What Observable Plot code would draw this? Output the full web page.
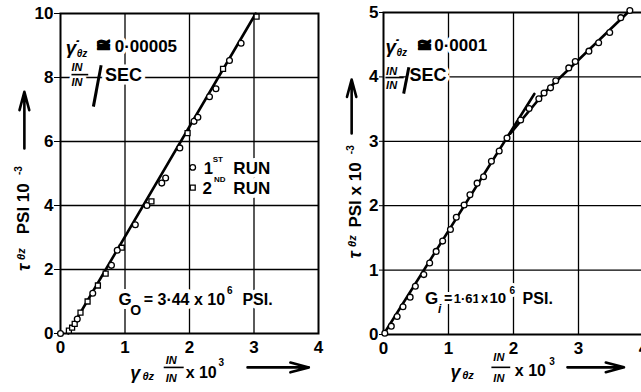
<!DOCTYPE html>
<html>
<head>
<meta charset="utf-8">
<script src="https://cdn.jsdelivr.net/npm/d3@7"></script>
<script src="https://cdn.jsdelivr.net/npm/@observablehq/plot@0.6"></script>
<style>
  html, body { margin: 0; padding: 0; background: #fff; }
  #chart { position: relative; width: 641px; height: 392px; overflow: hidden; }
  #chart svg { position: absolute; top: 0; overflow: visible; background: transparent; max-width: none; }
</style>
</head>
<body>
<div id="chart"></div>
<script>
// Shear stress (tau_theta_z) against shear strain (gamma_theta_z) in torsion,
// at two constant strain rates.

// ---- axes ----
const strainTicks = [0, 1, 2, 3, 4];
const slowStressTicks = [0, 2, 4, 6, 8, 10];
const fastStressTicks = [0, 1, 2, 3, 4, 5];

// ---- strain rate 0.00005 in/in/sec (left) ----
const run1Gamma = [0.00, 0.26, 0.50, 0.79, 0.88, 1.16, 1.34, 1.57, 1.63, 1.85, 2.07, 2.13, 2.31, 2.41, 2.62, 2.80];
const run1Tau   = [0.00, 0.45, 1.26, 2.13, 2.60, 3.40, 4.00, 4.70, 4.86, 5.80, 6.63, 6.76, 7.40, 7.65, 8.53, 9.07];
const run2Gamma = [0.13, 0.18, 0.22, 0.31, 0.42, 0.58, 0.70, 0.95, 1.41, 1.97, 2.52, 3.04];
const run2Tau   = [0.09, 0.18, 0.30, 0.65, 1.00, 1.50, 1.87, 2.68, 4.13, 6.26, 8.27, 9.90];
const modulusO = 3.44;          // G_O, x 10^6 psi
const slowFitStart = 0.12;      // strain where the fitted line leaves the axis
const slowFitTop = 10;

// ---- strain rate 0.0001 in/in/sec (right) ----
const fastGamma = [0.02, 0.12, 0.21, 0.30, 0.41, 0.49, 0.62, 0.71, 0.81, 0.91, 1.03, 1.12, 1.24, 1.33, 1.44, 1.54,
                   1.66, 1.78, 1.90, 2.11, 2.24, 2.39, 2.47, 2.57, 2.65, 2.85, 2.95, 3.16, 3.31, 3.48, 3.65, 3.79];
const fastTau   = [0.02, 0.13, 0.28, 0.43, 0.58, 0.75, 0.93, 1.11, 1.29, 1.45, 1.63, 1.82, 2.01, 2.17, 2.35, 2.45,
                   2.69, 2.85, 3.05, 3.33, 3.51, 3.66, 3.75, 3.83, 3.94, 4.14, 4.24, 4.40, 4.53, 4.69, 4.92, 5.03];
const modulusI = 1.61;          // G_i, x 10^6 psi
const fastFitEnd = 2.32;        // end of the initial linear part
const fastUpperGamma = [1.95, 2.47, 3.81];
const fastUpperTau   = [3.12, 3.75, 5.05];

const FONT = "Liberation Sans, Arial, sans-serif";
const pts = (xs, ys) => xs.map((x, i) => ({x, y: ys[i]}));

// a run of text pieces placed in data units
function pieces(list, halo = 5) {
  return list.map(([x, y, t, size, extra = {}]) => Plot.text([{x, y, t}], {
    x: "x", y: "y", text: "t",
    fontSize: size, fontWeight: "bold", fontFamily: FONT,
    textAnchor: "start", lineAnchor: "middle",
    fill: "black", stroke: "white", strokeWidth: halo, paintOrder: "stroke",
    ...extra
  }));
}
const it = {fontStyle: "italic"};
const up = {rotate: -90};
const heavy = {stroke: "black", strokeWidth: 1.2};
function bar(x1, x2, y) {
  return Plot.link([{x1, x2, y}], {x1: "x1", x2: "x2", y1: "y", y2: "y", stroke: "black", strokeWidth: 1.6});
}
function stroke(x1, y1, x2, y2, w = 3) {
  return Plot.link([{x1, y1, x2, y2}], {x1: "x1", y1: "y1", x2: "x2", y2: "y2", stroke: "black", strokeWidth: w});
}
function arrow(x1, y1, x2, y2) {
  return Plot.arrow([{x1, y1, x2, y2}], {x1: "x1", y1: "y1", x2: "x2", y2: "y2",
    stroke: "black", strokeWidth: 2.6, headLength: 11, headAngle: 30});
}
const fmt = d => String(d);

// ---------------- left panel ----------------
const left = Plot.plot({
  width: 320, height: 392,
  marginLeft: 60, marginRight: 2, marginTop: 13, marginBottom: 59,
  style: {fontFamily: FONT, fontSize: "17px", fontWeight: "bold", color: "black", background: "transparent"},
  x: {domain: [0, 4], ticks: strainTicks, tickSize: 0, tickPadding: 7, tickFormat: fmt, label: null},
  y: {domain: [0, 10], ticks: slowStressTicks, tickSize: 6, tickPadding: 1, tickFormat: fmt, label: null},
  marks: [
    Plot.ruleX(strainTicks.slice(1, -1), {stroke: "black", strokeWidth: 1.3}),
    Plot.ruleY(slowStressTicks.slice(1, -1), {stroke: "black", strokeWidth: 1.3}),
    // strain-rate note
    ...pieces([
      [0.08, 8.94, "γ̇", 19, it],
      [0.25, 8.74, "θz", 10, it],
      [0.55, 9.0, "≅", 18],
      [0.84, 8.97, "0·00005", 17],
      [0.17, 8.31, "IN", 11, it],
      [0.17, 7.86, "IN", 11, it],
      [0.69, 8.06, "SEC", 18]
    ], 7),
    ...pieces([[0.55, 9.0, "≅", 18, heavy]], 0),
    bar(0.17, 0.43, 8.09),
    stroke(0.51, 7.09, 0.63, 8.38),
    // legend
    ...pieces([
      [2.22, 5.16, "1", 17], [2.36, 5.44, "ST", 8], [2.68, 5.16, "RUN", 17],
      [2.20, 4.53, "2", 17], [2.38, 4.81, "ND", 8], [2.68, 4.53, "RUN", 17]
    ], 8),
    Plot.dot([{x: 2.05, y: 5.19}], {x: "x", y: "y", symbol: "circle", r: 2.8, fill: "white", stroke: "black", strokeWidth: 1.3}),
    Plot.dot([{x: 2.05, y: 4.56}], {x: "x", y: "y", symbol: "square", r: 2.8, fill: "white", stroke: "black", strokeWidth: 1.3}),
    // modulus
    ...pieces([
      [0.90, 1.06, "G", 17],
      [1.08, 0.71, "O", 14],
      [1.29, 1.06, "= 3·44 x 10", 16],
      [2.58, 1.34, "6", 10],
      [2.82, 1.06, "PSI.", 16]
    ], 8),
    // x-axis title
    ...pieces([
      [1.08, -1.25, "γ", 18, it], [1.27, -1.35, "θz", 11, it],
      [1.63, -0.85, "IN", 11, it], [1.63, -1.41, "IN", 11, it],
      [1.94, -1.22, "x 10", 16], [2.45, -0.9, "3", 10]
    ], 0),
    bar(1.60, 1.91, -1.06),
    arrow(2.9, -1.06, 3.85, -1.06),
    // y-axis title
    ...pieces([
      [-0.57, 1.95, "τ", 18, {...it, ...up}],
      [-0.61, 2.30, "θz", 11, {...it, ...up}],
      [-0.57, 3.10, "PSI 10", 17, up],
      [-0.65, 4.95, "-3", 10, up]
    ], 0),
    arrow(-0.56, 5.78, -0.56, 7.55),
    Plot.frame({stroke: "black", strokeWidth: 2}),
    // fitted line, G_O
    Plot.line([
      {x: slowFitStart, y: 0},
      {x: slowFitStart + slowFitTop / modulusO, y: slowFitTop}
    ], {x: "x", y: "y", stroke: "black", strokeWidth: 2.6}),
    Plot.dot(pts(run2Gamma, run2Tau), {x: "x", y: "y", symbol: "square", r: 2.8, fill: "white", stroke: "black", strokeWidth: 1.3}),
    Plot.dot(pts(run1Gamma, run1Tau), {x: "x", y: "y", symbol: "circle", r: 2.9, fill: "white", stroke: "black", strokeWidth: 1.3})
  ]
});
left.style.left = "0px";

// ---------------- right panel ----------------
const right = Plot.plot({
  width: 323, height: 392,
  marginLeft: 63, marginRight: 0, marginTop: 12, marginBottom: 58,
  style: {fontFamily: FONT, fontSize: "17px", fontWeight: "bold", color: "black", background: "transparent"},
  x: {domain: [0, 4], ticks: strainTicks, tickSize: 0, tickPadding: 7, tickFormat: fmt, label: null},
  y: {domain: [0, 5], ticks: fastStressTicks, tickSize: 4, tickPadding: 1, tickFormat: fmt, label: null},
  marks: [
    Plot.ruleX(strainTicks.slice(1, -1), {stroke: "black", strokeWidth: 1.3}),
    Plot.ruleY(fastStressTicks.slice(1, -1), {stroke: "black", strokeWidth: 1.3}),
    // strain-rate note
    ...pieces([
      [0.03, 4.47, "γ̇", 19, it],
      [0.20, 4.37, "θz", 10, it],
      [0.51, 4.49, "≅", 18],
      [0.78, 4.49, "0·0001", 17],
      [0.04, 4.09, "IN", 11, it],
      [0.04, 3.87, "IN", 11, it],
      [0.40, 4.02, "SEC", 18]
    ], 7),
    ...pieces([[0.51, 4.49, "≅", 18, heavy]], 0),
    bar(0.03, 0.31, 3.99),
    stroke(0.31, 3.74, 0.39, 4.15),
    // modulus
    ...pieces([
      [0.64, 0.56, "G", 17],
      [0.84, 0.40, "i", 12, it],
      [0.93, 0.56, "=", 16],
      [1.08, 0.56, "1·61", 13],
      [1.50, 0.56, "x", 14],
      [1.63, 0.56, "10", 15],
      [1.94, 0.68, "6", 10],
      [2.14, 0.56, "PSI.", 16]
    ], 6),
    // x-axis title
    ...pieces([
      [1.03, -0.59, "γ", 18, it], [1.21, -0.64, "θz", 11, it],
      [1.69, -0.36, "IN", 11, it], [1.69, -0.68, "IN", 11, it],
      [2.02, -0.57, "x 10", 16], [2.55, -0.42, "3", 10]
    ], 0),
    bar(1.66, 1.95, -0.51),
    arrow(2.83, -0.51, 3.70, -0.51),
    // y-axis title
    ...pieces([
      [-0.43, 1.18, "τ", 18, {...it, ...up}],
      [-0.47, 1.36, "θz", 11, {...it, ...up}],
      [-0.43, 1.66, "PSI x 10", 17, up],
      [-0.51, 2.80, "-3", 10, up]
    ], 0),
    arrow(-0.49, 3.12, -0.49, 3.96),
    Plot.frame({stroke: "black", strokeWidth: 2}),
    // initial linear part, G_i
    Plot.line([
      {x: 0, y: 0},
      {x: fastFitEnd, y: modulusI * fastFitEnd}
    ], {x: "x", y: "y", stroke: "black", strokeWidth: 2.6}),
    Plot.line(pts(fastUpperGamma, fastUpperTau), {x: "x", y: "y", stroke: "black", strokeWidth: 2.6}),
    Plot.dot(pts(fastGamma, fastTau), {x: "x", y: "y", symbol: "circle", r: 2.9, fill: "white", stroke: "black", strokeWidth: 1.3})
  ]
});
right.style.left = "320px";

const chart = document.getElementById("chart");
chart.append(right, left);
</script>
</body>
</html>
